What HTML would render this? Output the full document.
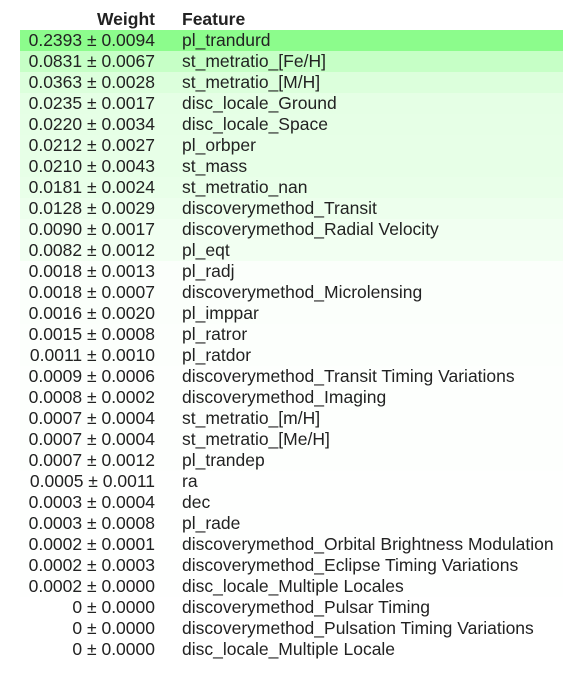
<!DOCTYPE html>
<html><head><style>
body{margin:0;background:#fff;font-family:"Liberation Sans",Arial,sans-serif;color:#222;}
table{position:absolute;left:20px;top:8px;border-collapse:collapse;font-size:17.5px;width:543px;}
th{font-weight:bold;height:22px;padding:0;text-align:left;}
th.w{text-align:right;padding-right:8px;}
td{height:21px;padding:0;line-height:21px;white-space:nowrap;}
td.w{text-align:right;padding-right:8px;width:135px;}
td.f{padding-left:19px;}
</style></head><body>
<table>
<tr><th class="w">Weight</th><th style="padding-left:19px">Feature</th></tr>
<tr style="background:#8cfc8c"><td class="w">0.2393 ± 0.0094</td><td class="f">pl_trandurd</td></tr>
<tr style="background:#c6ffc6"><td class="w">0.0831 ± 0.0067</td><td class="f">st_metratio_[Fe/H]</td></tr>
<tr style="background:#dcffdc"><td class="w">0.0363 ± 0.0028</td><td class="f">st_metratio_[M/H]</td></tr>
<tr style="background:#e5ffe5"><td class="w">0.0235 ± 0.0017</td><td class="f">disc_locale_Ground</td></tr>
<tr style="background:#e6ffe6"><td class="w">0.0220 ± 0.0034</td><td class="f">disc_locale_Space</td></tr>
<tr style="background:#e7ffe7"><td class="w">0.0212 ± 0.0027</td><td class="f">pl_orbper</td></tr>
<tr style="background:#e7ffe7"><td class="w">0.0210 ± 0.0043</td><td class="f">st_mass</td></tr>
<tr style="background:#e9ffe9"><td class="w">0.0181 ± 0.0024</td><td class="f">st_metratio_nan</td></tr>
<tr style="background:#edffed"><td class="w">0.0128 ± 0.0029</td><td class="f">discoverymethod_Transit</td></tr>
<tr style="background:#f1fff1"><td class="w">0.0090 ± 0.0017</td><td class="f">discoverymethod_Radial Velocity</td></tr>
<tr style="background:#f2fff2"><td class="w">0.0082 ± 0.0012</td><td class="f">pl_eqt</td></tr>
<tr style="background:#fbfffb"><td class="w">0.0018 ± 0.0013</td><td class="f">pl_radj</td></tr>
<tr style="background:#fbfffb"><td class="w">0.0018 ± 0.0007</td><td class="f">discoverymethod_Microlensing</td></tr>
<tr style="background:#fbfffb"><td class="w">0.0016 ± 0.0020</td><td class="f">pl_imppar</td></tr>
<tr style="background:#fcfffc"><td class="w">0.0015 ± 0.0008</td><td class="f">pl_ratror</td></tr>
<tr style="background:#fcfffc"><td class="w">0.0011 ± 0.0010</td><td class="f">pl_ratdor</td></tr>
<tr style="background:#fdfffd"><td class="w">0.0009 ± 0.0006</td><td class="f">discoverymethod_Transit Timing Variations</td></tr>
<tr style="background:#fdfffd"><td class="w">0.0008 ± 0.0002</td><td class="f">discoverymethod_Imaging</td></tr>
<tr style="background:#fdfffd"><td class="w">0.0007 ± 0.0004</td><td class="f">st_metratio_[m/H]</td></tr>
<tr style="background:#fdfffd"><td class="w">0.0007 ± 0.0004</td><td class="f">st_metratio_[Me/H]</td></tr>
<tr style="background:#fdfffd"><td class="w">0.0007 ± 0.0012</td><td class="f">pl_trandep</td></tr>
<tr style="background:#fefffe"><td class="w">0.0005 ± 0.0011</td><td class="f">ra</td></tr>
<tr style="background:#fefffe"><td class="w">0.0003 ± 0.0004</td><td class="f">dec</td></tr>
<tr style="background:#fefffe"><td class="w">0.0003 ± 0.0008</td><td class="f">pl_rade</td></tr>
<tr style="background:#fefffe"><td class="w">0.0002 ± 0.0001</td><td class="f">discoverymethod_Orbital Brightness Modulation</td></tr>
<tr style="background:#fefffe"><td class="w">0.0002 ± 0.0003</td><td class="f">discoverymethod_Eclipse Timing Variations</td></tr>
<tr style="background:#fefffe"><td class="w">0.0002 ± 0.0000</td><td class="f">disc_locale_Multiple Locales</td></tr>
<tr><td class="w">0 ± 0.0000</td><td class="f">discoverymethod_Pulsar Timing</td></tr>
<tr><td class="w">0 ± 0.0000</td><td class="f">discoverymethod_Pulsation Timing Variations</td></tr>
<tr><td class="w">0 ± 0.0000</td><td class="f">disc_locale_Multiple Locale</td></tr>
</table>
</body></html>
